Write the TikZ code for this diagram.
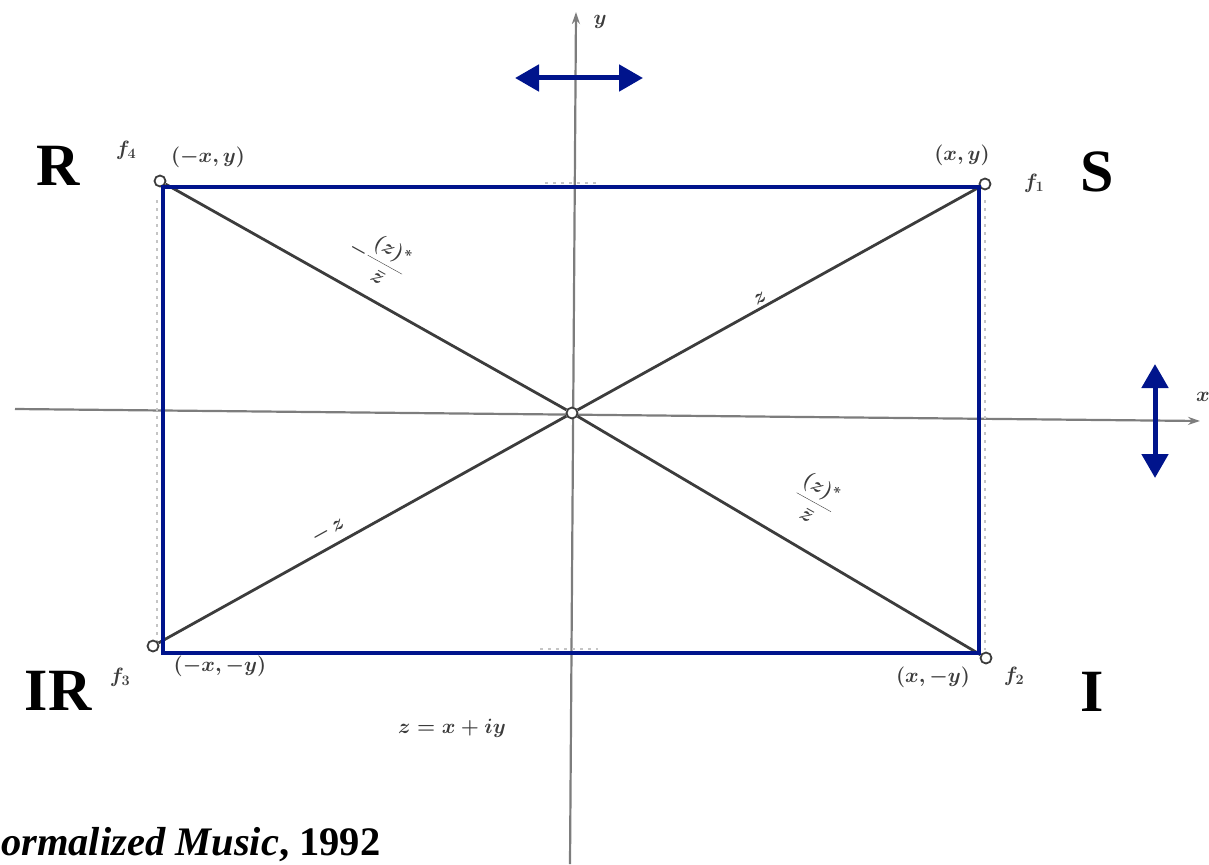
\documentclass[tikz,border=0pt]{standalone}
\usepackage{fontspec}
\setmainfont{Liberation Serif}
\usetikzlibrary{arrows.meta}
\definecolor{navy}{RGB}{0,20,140}
\definecolor{scan}{RGB}{60,60,60}
\definecolor{scanlight}{RGB}{125,125,125}
\tikzset{
  axisline/.style={draw=scanlight,line width=2.2pt},
  diagline/.style={draw=scan,line width=2.8pt},
  bluebox/.style={draw=navy,line width=3.6pt},
  bluearrow/.style={draw=navy,line width=5pt,{Triangle[length=24pt,width=26pt]}-{Triangle[length=24pt,width=26pt]}},
  corner/.style={font=\fontsize{60}{62}\selectfont\bfseries},
  scantext/.style={text=scan,font=\fontsize{21}{23}\selectfont\itshape\boldmath,inner sep=1pt},
  dot/.style={circle,draw=scan,line width=1.8pt,fill=white,inner sep=0pt,minimum size=11pt},
  faint/.style={draw=scanlight!45,line width=2pt,dash pattern=on 3pt off 5pt}
}
\begin{document}
\begin{tikzpicture}[x=1pt,y=-1pt]
\useasboundingbox (0,0) rectangle (1209,864);
% axes
\coordinate (xl) at (15,409);
\coordinate (xr) at (1200,421);
\coordinate (yt) at (576,12);
\coordinate (yb) at (570,864);
\draw[axisline,-{Stealth[length=12pt,width=8pt]}] (xl) -- (xr);
\draw[axisline,-{Stealth[length=12pt,width=8pt]}] (yb) -- (yt);
\node[scantext] (ylab) at (600,22) {$y$};
\node[scantext] (xlab) at (1203,397) {$x$};
% faint ticks
\coordinate (lt) at (157,200); \coordinate (lb) at (157,645);
\coordinate (rt) at (985,200); \coordinate (rb) at (985,650);
\draw[faint] (lt) -- (lb);
\draw[faint] (rt) -- (rb);
\coordinate (tl) at (545,183); \coordinate (tr) at (600,183);
\coordinate (bl) at (540,649); \coordinate (br) at (598,649);
\draw[faint] (tl) -- (tr);
\draw[faint] (bl) -- (br);
% scanned corner points
\node[dot] (o) at (572,413) {};
\node[dot] (p4) at (160,181) {};
\node[dot] (p1) at (985,184) {};
\node[dot] (p3) at (153,646) {};
\node[dot] (p2) at (986,658) {};
\draw[diagline] (o) -- (p4);
\draw[diagline] (o) -- (p1);
\draw[diagline] (o) -- (p3);
\draw[diagline] (o) -- (p2);
% diagonal labels
\node[scantext,rotate=-29] (l4) at (378,258) {$\displaystyle -\frac{(z)^{*}}{\bar z}$};
\node[scantext,rotate=29] (l1) at (760,298) {$z$};
\node[scantext,rotate=29] (l3) at (328,530) {$-\,z$};
\node[scantext,rotate=-29] (l2) at (815,500) {$\displaystyle \frac{(z)^{*}}{\bar z}$};
% corner labels
\node[scantext] (f4) at (126,150) {$f_4$};
\node[scantext] (c4) at (208,157) {$(-x,y)$};
\node[scantext] (c1) at (962,155) {$(x,y)$};
\node[scantext] (f1) at (1034,183) {$f_1$};
\node[scantext] (f3) at (120,677) {$f_3$};
\node[scantext] (c3) at (220,666) {$(-x,-y)$};
\node[scantext] (c2) at (933,677) {$(x,-y)$};
\node[scantext] (f2) at (1014,676) {$f_2$};
\node[scantext] (zeq) at (452,728) {$z = x + iy$};
% blue overlay
\coordinate (A) at (163,187);
\coordinate (D) at (979,653);
\draw[bluebox] (A) rectangle (D);
\coordinate (h1) at (515,78); \coordinate (h2) at (643,78);
\draw[bluearrow] (h1) -- (h2);
\coordinate (v1) at (1155,364); \coordinate (v2) at (1155,478);
\draw[bluearrow] (v1) -- (v2);
\node[corner] (R) at (58,166) {R};
\node[corner] (S) at (1097,172) {S};
\node[corner] (IR) at (58,691) {IR};
\node[corner] (I) at (1092,692) {I};
\node[anchor=base west,inner sep=0pt,font=\fontsize{40.5}{42}\selectfont\bfseries] (cite) at (1,855) {\textit{ormalized Music}, 1992};
\end{tikzpicture}
\end{document}
